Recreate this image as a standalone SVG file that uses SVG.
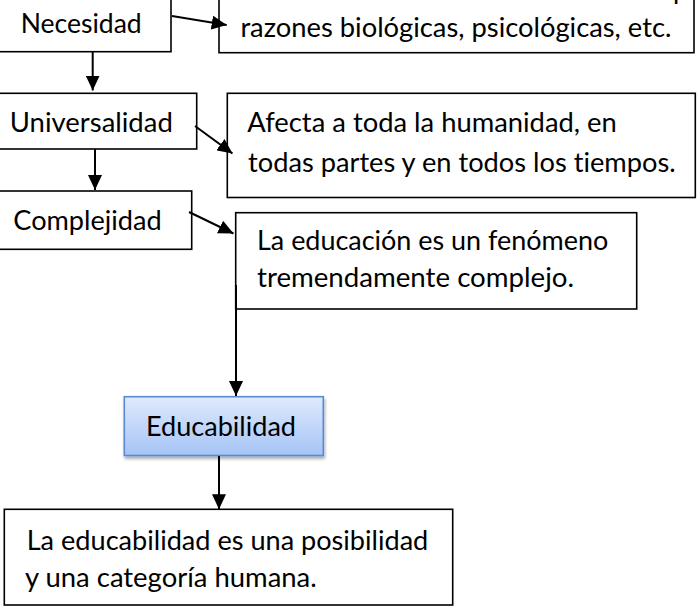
<svg xmlns="http://www.w3.org/2000/svg" width="698" height="608" viewBox="0 0 698 608">
<defs>
<style>
.box{fill:#fff;stroke:#000;stroke-width:1.6}
.t{font-family:Lato,"Liberation Sans",sans-serif;font-size:27px;fill:#000;font-variant-ligatures:none;font-feature-settings:"liga" 0,"clig" 0}
.c{stroke:#000;stroke-width:2;fill:none}
</style>
<marker id="ah" markerUnits="userSpaceOnUse" markerWidth="15" markerHeight="14" refX="15" refY="7" orient="auto"><path d="M0,0 L15,7 L0,14 z" fill="#000"/></marker>
<linearGradient id="g" x1="0" y1="0" x2="0" y2="1"><stop offset="0" stop-color="#dfeafd"/><stop offset="1" stop-color="#a5c4f6"/></linearGradient>
<filter id="sh" x="-10%" y="-20%" width="120%" height="150%"><feDropShadow dx="1" dy="2.5" stdDeviation="1.5" flood-color="#000" flood-opacity="0.35"/></filter>
</defs>
<rect width="698" height="608" fill="#fff"/>
<g id="necesidad">
<rect class="box" x="-4" y="-20" width="175" height="71.7"/>
<text class="t" x="20.7" y="33.3" textLength="121" lengthAdjust="spacingAndGlyphs">Necesidad</text>
</g>
<g id="razones">
<rect class="box" x="219" y="-20" width="475" height="72.7"/>
<text class="t" x="673" y="-1">p</text>
<text class="t" x="240.4" y="37.3" textLength="431" lengthAdjust="spacingAndGlyphs">razones biológicas, psicológicas, etc.</text>
</g>
<g id="universalidad">
<rect class="box" x="-4" y="93.3" width="200.7" height="55.7"/>
<text class="t" x="9.8" y="131.7" textLength="163" lengthAdjust="spacingAndGlyphs">Universalidad</text>
</g>
<g id="afecta">
<rect class="box" x="227.3" y="93.3" width="468" height="104.2"/>
<text class="t" x="247.3" y="131.7" textLength="369.5" lengthAdjust="spacingAndGlyphs">Afecta a toda la humanidad, en</text>
<text class="t" x="248" y="172" textLength="427.7" lengthAdjust="spacingAndGlyphs">todas partes y en todos los tiempos.</text>
</g>
<g id="complejidad">
<rect class="box" x="-4" y="191" width="195.7" height="58.3"/>
<text class="t" x="13.3" y="230" textLength="148.4" lengthAdjust="spacingAndGlyphs">Complejidad</text>
</g>
<g id="laeducacion">
<rect class="box" x="235.7" y="212.7" width="401" height="96.3"/>
<text class="t" x="257" y="250" textLength="351.3" lengthAdjust="spacingAndGlyphs">La educación es un fenómeno</text>
<text class="t" x="257" y="287" textLength="317" lengthAdjust="spacingAndGlyphs">tremendamente complejo.</text>
</g>
<g id="educabilidad">
<rect x="124.3" y="396.7" width="199" height="58.8" fill="url(#g)" stroke="#5a8ad0" stroke-width="1.6" filter="url(#sh)"/>
<text class="t" x="146" y="435.5" textLength="150" lengthAdjust="spacingAndGlyphs">Educabilidad</text>
</g>
<g id="posibilidad">
<rect class="box" x="4.3" y="509.3" width="448.4" height="95.7"/>
<text class="t" x="26.7" y="549.5" textLength="401.6" lengthAdjust="spacingAndGlyphs">La educabilidad es una posibilidad</text>
<text class="t" x="25" y="587" textLength="291.7" lengthAdjust="spacingAndGlyphs">y una categoría humana.</text>
</g>
<g id="connectors">
<line class="c" x1="172" y1="16" x2="226.7" y2="25" marker-end="url(#ah)"/>
<line class="c" x1="92.7" y1="52" x2="92.7" y2="90.5" marker-end="url(#ah)"/>
<line class="c" x1="195" y1="126" x2="232.5" y2="153.5" marker-end="url(#ah)"/>
<line class="c" x1="95" y1="149" x2="95" y2="190" marker-end="url(#ah)"/>
<line class="c" x1="189" y1="212" x2="233.5" y2="233.5" marker-end="url(#ah)"/>
<line class="c" x1="236" y1="285" x2="236" y2="396" marker-end="url(#ah)"/>
<line class="c" x1="219" y1="456" x2="219" y2="509.3" marker-end="url(#ah)"/>
</g>
</svg>
